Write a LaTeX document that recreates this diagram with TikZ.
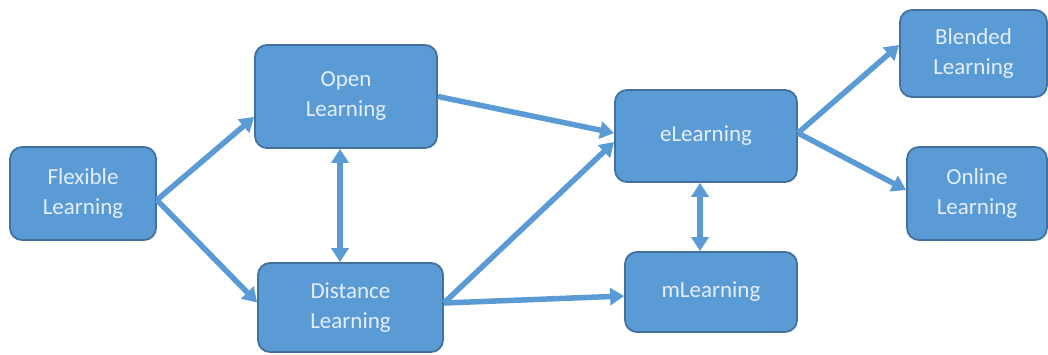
\documentclass[tikz,border=0pt]{standalone}
\usepackage{fontspec}
\setmainfont{Carlito}
\usetikzlibrary{arrows.meta}
\definecolor{boxfill}{HTML}{5B9BD5}
\definecolor{boxline}{HTML}{41719C}
\definecolor{boxtext}{HTML}{E4EEF9}
\definecolor{arrcol}{HTML}{5B9BD5}
\tikzset{
  lbox/.style={draw=boxline, line width=1.8pt, fill=boxfill, rounded corners=12pt,
    inner sep=0pt, align=center, text=boxtext,
    font=\fontsize{23}{30}\selectfont},
  arr/.style={draw=arrcol, line width=5.5pt, -{Triangle[width=17pt,length=14pt]}},
  darr/.style={draw=arrcol, line width=5.5pt, {Triangle[width=17pt,length=14pt]}-{Triangle[width=17pt,length=14pt]}}
}
\begin{document}
\begin{tikzpicture}[x=1pt,y=-1pt]
\useasboundingbox (0,0) rectangle (1048,354);
\fill[white] (0,0) rectangle (1048,354);
\node[lbox, minimum width=146pt, minimum height=93pt] (flex) at (83,193.5) {Flexible\\Learning};
\node[lbox, minimum width=182pt, minimum height=103pt] (open) at (346,96.5) {Open\\Learning};
\node[lbox, minimum width=185pt, minimum height=89pt] (dist) at (350.5,307.5) {Distance\\Learning};
\node[lbox, minimum width=182pt, minimum height=92pt] (elearn) at (706,136) {eLearning};
\node[lbox, minimum width=172pt, minimum height=80pt] (mlearn) at (711,292) {mLearning};
\node[lbox, minimum width=147pt, minimum height=87pt] (blend) at (973.5,53.5) {Blended\\Learning};
\node[lbox, minimum width=140pt, minimum height=93pt] (online) at (977,193.5) {Online\\Learning};

\draw[arr] ([yshift=-6.5pt]flex.east) -- ([yshift=-20.5pt]open.west);
\draw[arr] ([yshift=-6.5pt]flex.east) -- ([yshift=5pt]dist.west);
\draw[arr] (open.east) -- ([yshift=3pt]elearn.west);
\draw[arr] ([yshift=4.5pt]dist.east) -- ([yshift=-6pt]elearn.west);
\draw[arr] ([yshift=4.5pt]dist.east) -- ([yshift=-4pt]mlearn.west);
\draw[darr] ([xshift=-6pt]open.south) -- ([xshift=-6pt]open.south |- dist.north);
\draw[darr] ([xshift=-6pt]elearn.south) -- ([xshift=-6pt]elearn.south |- mlearn.north);
\draw[arr] ([yshift=3pt]elearn.east) -- ([yshift=8.5pt]blend.west);
\draw[arr] ([yshift=3pt]elearn.east) -- ([yshift=3.5pt]online.west);
\end{tikzpicture}
\end{document}
